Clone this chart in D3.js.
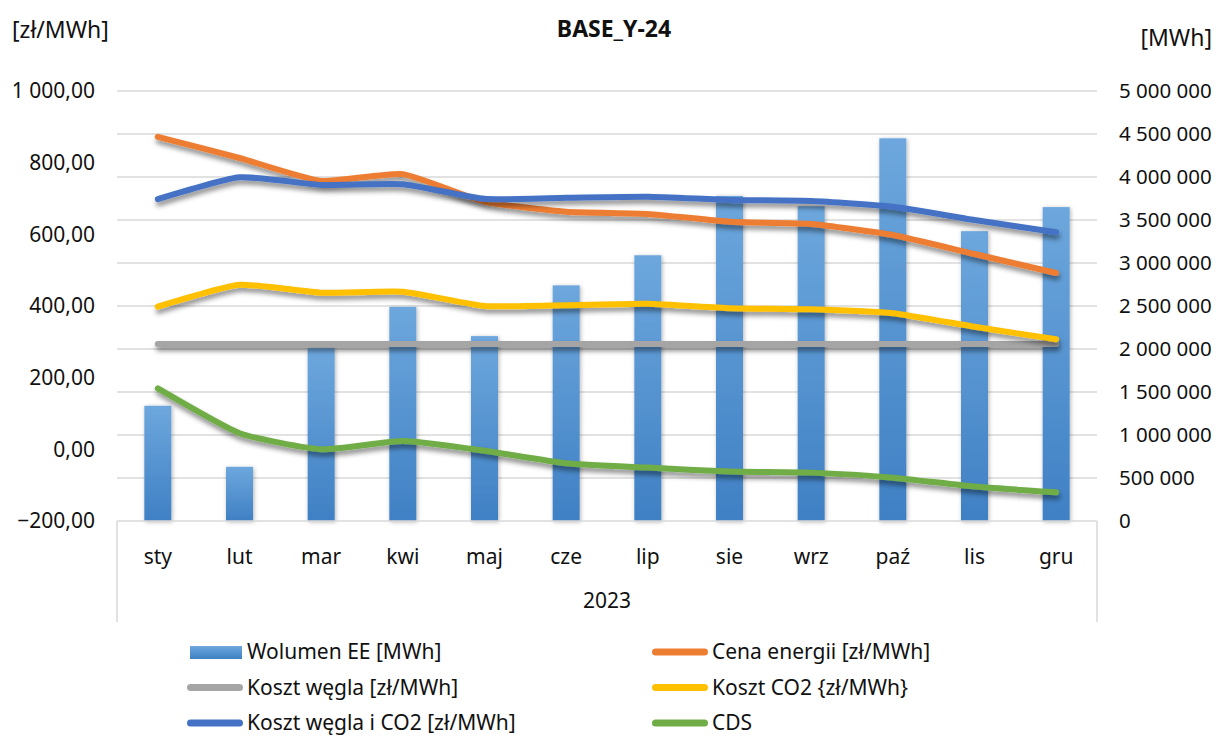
<!DOCTYPE html>
<html>
<head>
<meta charset="utf-8">
<script src="https://cdn.jsdelivr.net/npm/d3@7"></script>
<style>
  body { margin: 0; background: #fff; }
  text { font-family: "Noto Sans", sans-serif; fill: #111; }
</style>
</head>
<body>
<svg id="chart" width="1218" height="738"></svg>
<script>
// data
const months = ["sty", "lut", "mar", "kwi", "maj", "cze", "lip", "sie", "wrz", "paź", "lis", "gru"];
const wolumen = [1340000, 630000, 2010000, 2490000, 2150000, 2740000, 3090000, 3780000, 3660000, 4450000, 3370000, 3650000];
const cena = [872, 813, 749, 768, 691, 663, 657, 635, 629, 598, 545, 492];
const wegiel = [294, 294, 294, 294, 294, 294, 294, 294, 294, 294, 294, 294];
const co2 = [398, 459, 437, 440, 400, 402, 406, 394, 391, 380, 342, 307];
const wegielCo2 = [698, 759, 738, 740, 699, 702, 705, 696, 693, 677, 640, 606];
const cds = [170, 45, 0, 23, -4, -39, -51, -62, -65, -79, -104, -120];
const leftTicks = [-200, 0, 200, 400, 600, 800, 1000];
const rightTicks = d3.range(0, 5000001, 500000);

const lineSeries = [
  { name: "Cena energii [zł/MWh]", values: cena, color: "#ED7D31" },
  { name: "Koszt węgla [zł/MWh]", values: wegiel, color: "#A5A5A5" },
  { name: "Koszt CO2 {zł/MWh}", values: co2, color: "#FFC000" },
  { name: "Koszt węgla i CO2 [zł/MWh]", values: wegielCo2, color: "#4472C4" },
  { name: "CDS", values: cds, color: "#70AD47" }
];

const pl = d3.formatLocale({ decimal: ",", thousands: " ", grouping: [3], currency: ["", " zł"] });
const fmtLeft = pl.format(",.2f");
const fmtRight = pl.format(",d");

const svg = d3.select("#chart");
const plotLeft = 117, plotRight = 1097, plotTop = 91, plotBottom = 521;

const x = d3.scaleBand().domain(months).range([plotLeft, plotRight]).paddingInner(0).paddingOuter(0);
const yL = d3.scaleLinear().domain([-200, 1000]).range([plotBottom, plotTop]);
const yR = d3.scaleLinear().domain([0, 5000000]).range([plotBottom, plotTop]);

const defs = svg.append("defs");
const grad = defs.append("linearGradient").attr("id", "barGrad").attr("x1", 0).attr("y1", 0).attr("x2", 0).attr("y2", 1);
grad.append("stop").attr("offset", "0%").attr("stop-color", "#6DA7DD");
grad.append("stop").attr("offset", "100%").attr("stop-color", "#3F80C4");

const fBar = defs.append("filter").attr("id", "barShadow").attr("x", "-50%").attr("y", "-10%").attr("width", "200%").attr("height", "120%");
fBar.append("feDropShadow").attr("dx", 1).attr("dy", 1).attr("stdDeviation", 2)
  .attr("flood-color", "#000").attr("flood-opacity", 0.3);
// user space region so the flat line keeps its shadow too
const fLine = defs.append("filter").attr("id", "lineShadow").attr("filterUnits", "userSpaceOnUse")
  .attr("x", 0).attr("y", 0).attr("width", 1218).attr("height", 738);
fLine.append("feDropShadow").attr("dx", 1).attr("dy", 4).attr("stdDeviation", 2.5)
  .attr("flood-color", "#000").attr("flood-opacity", 0.45);

// title and axis titles
svg.append("text").attr("x", 614).attr("y", 37).attr("text-anchor", "middle")
  .style("font-size", "23px").style("font-weight", "bold").text("BASE_Y-24");
svg.append("text").attr("x", 12).attr("y", 38).style("font-size", "23px").text("[zł/MWh]");
svg.append("text").attr("x", 1212).attr("y", 46).attr("text-anchor", "end").style("font-size", "23px").text("[MWh]");

// gridlines (from right axis)
svg.append("g").selectAll("line").data(rightTicks.slice(1)).join("line")
  .attr("x1", plotLeft).attr("x2", plotRight)
  .attr("y1", d => yR(d)).attr("y2", d => yR(d))
  .attr("stroke", "#D9D9D9").attr("stroke-width", 1.5);

// left axis labels
svg.append("g").selectAll("text").data(leftTicks).join("text")
  .attr("x", 95).attr("y", d => yL(d)).attr("dy", "0.35em").attr("text-anchor", "end")
  .style("font-size", "21px").text(d => fmtLeft(d));

// right axis labels
svg.append("g").selectAll("text").data(rightTicks).join("text")
  .attr("x", 1119).attr("y", d => yR(d)).attr("dy", "0.35em")
  .style("font-size", "20.5px").text(d => fmtRight(d));

// bars
const bw = 27;
svg.append("g").selectAll("rect").data(wolumen).join("rect")
  .attr("x", (d, i) => x(months[i]) + x.bandwidth() / 2 - bw / 2)
  .attr("y", d => yR(d))
  .attr("width", bw)
  .attr("height", d => yR(0) - yR(d))
  .attr("fill", "url(#barGrad)")
  .attr("filter", "url(#barShadow)");

// category axis with group box
const axisG = svg.append("g").attr("stroke", "#D9D9D9").attr("stroke-width", 1.5);
axisG.append("line").attr("x1", plotLeft).attr("x2", plotRight).attr("y1", plotBottom).attr("y2", plotBottom);
axisG.append("line").attr("x1", plotLeft).attr("x2", plotLeft).attr("y1", plotBottom).attr("y2", 622);
axisG.append("line").attr("x1", plotRight).attr("x2", plotRight).attr("y1", plotBottom).attr("y2", 622);

svg.append("g").selectAll("text").data(months).join("text")
  .attr("x", d => x(d) + x.bandwidth() / 2).attr("y", 557).attr("dy", "0.35em")
  .attr("text-anchor", "middle").style("font-size", "21px").text(d => d);
svg.append("text").attr("x", (plotLeft + plotRight) / 2).attr("y", 601).attr("dy", "0.35em")
  .attr("text-anchor", "middle").style("font-size", "21px").text("2023");

// lines (Excel-like light smoothing)
const line = d3.line()
  .x((d, i) => x(months[i]) + x.bandwidth() / 2)
  .y(d => yL(d))
  .curve(d3.curveCardinal.tension(0.5));

svg.append("g").selectAll("path").data(lineSeries).join("path")
  .attr("d", d => line(d.values))
  .attr("fill", "none")
  .attr("stroke", d => d.color)
  .attr("stroke-width", 6)
  .attr("stroke-linecap", "round")
  .attr("stroke-linejoin", "round")
  .attr("filter", "url(#lineShadow)");

// legend
const legendItems = [
  { name: "Wolumen EE [MWh]", type: "bar" },
  lineSeries[0], lineSeries[1], lineSeries[2], lineSeries[3], lineSeries[4]
];
const lg = svg.append("g").selectAll("g").data(legendItems).join("g")
  .attr("transform", (d, i) => `translate(${i % 2 === 0 ? 187 : 652},${652 + Math.floor(i / 2) * 35.5})`);
lg.each(function (d) {
  const g = d3.select(this);
  if (d.type === "bar") {
    g.append("rect").attr("x", 3).attr("y", -6).attr("width", 52).attr("height", 13).attr("fill", "url(#barGrad)");
  } else {
    g.append("line").attr("x1", 3.5).attr("x2", 52.5).attr("y1", 0).attr("y2", 0)
      .attr("stroke", d.color).attr("stroke-width", 7).attr("stroke-linecap", "round");
  }
  g.append("text").attr("x", 60).attr("y", 0).attr("dy", "0.35em")
    .style("font-size", "21px").text(d.name);
});
</script>
</body>
</html>
